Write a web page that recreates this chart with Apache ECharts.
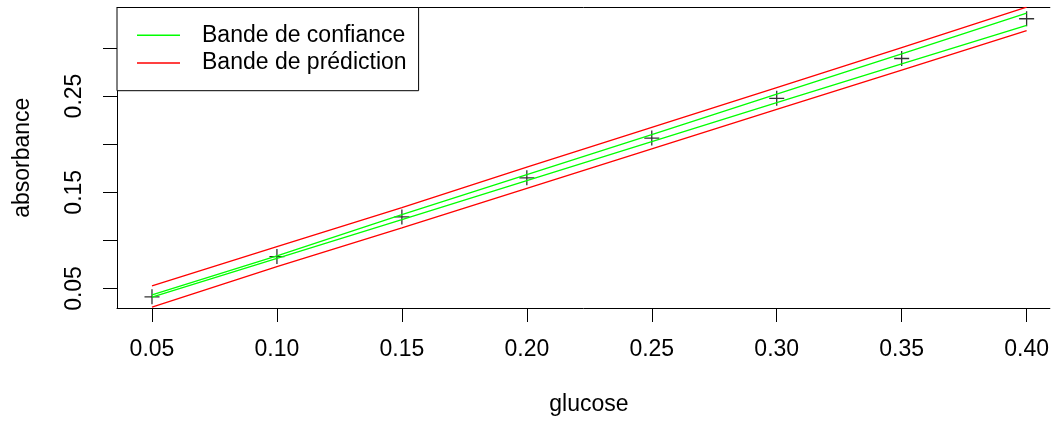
<!DOCTYPE html>
<html>
<head>
<meta charset="utf-8">
<script src="https://cdn.jsdelivr.net/npm/echarts@6/dist/echarts.min.js"></script>
<style>html,body{margin:0;padding:0;background:#fff;}#c{width:1052px;height:421px;}</style>
</head>
<body>
<div id="c"></div>
<script>
const glucose = [0.05, 0.10, 0.15, 0.20, 0.25, 0.30, 0.35, 0.40];
const absorbance = [0.0413, 0.0831, 0.1244, 0.1650, 0.2063, 0.2476, 0.2890, 0.3303];
const confLow = [0.0410, 0.0813, 0.1216, 0.1620, 0.2026, 0.2431, 0.2833, 0.3234];
const confHigh = [0.0434, 0.0839, 0.1268, 0.1682, 0.2100, 0.2519, 0.2938, 0.3362];
const predLow = [0.0307, 0.0727, 0.1130, 0.1540, 0.1951, 0.2362, 0.2770, 0.3179];
const predHigh = [0.0527, 0.0934, 0.1340, 0.1761, 0.2175, 0.2588, 0.3004, 0.3424];
const xTicks = [0.05, 0.10, 0.15, 0.20, 0.25, 0.30, 0.35, 0.40];
const yTicks = [0.05, 0.10, 0.15, 0.20, 0.25, 0.30];
const yLabels = [0.05, 0.15, 0.25];
const confName = 'Bande de confiance';
const predName = 'Bande de prédiction';

const FONT = "'Liberation Sans', Arial, Helvetica, sans-serif";
const pair = (xs, ys) => xs.map((x, i) => [x, ys[i]]);

const lineSeries = (name, ys, color) => ({
  type: 'line', name: name, data: pair(glucose, ys),
  showSymbol: false, symbol: 'none', silent: true,
  lineStyle: { color: color, width: 1.3 }, itemStyle: { color: color },
  animation: false
});

const chart = echarts.init(document.getElementById('c'), null, { renderer: 'canvas' });
chart.setOption({
  animation: false,
  backgroundColor: '#fff',
  textStyle: { fontFamily: FONT },
  grid: { left: 117, right: 1, top: 7.5, bottom: 111, show: false },
  legend: {
    left: 117, top: 7.5, orient: 'vertical',
    backgroundColor: '#fff', borderColor: '#000', borderWidth: 1,
    padding: [14, 12, 14, 20], itemGap: 0,
    itemWidth: 43, itemHeight: 1.5, icon: 'rect',
    textStyle: { fontFamily: FONT, fontSize: 23, color: '#000', lineHeight: 27.6, padding: [0, 0, 0, 17] },
    data: [confName, predName],
    selectedMode: false
  },
  xAxis: [{
    type: 'value', min: 0.036, max: 0.4093, position: 'bottom',
    name: 'glucose', nameLocation: 'middle', nameGap: 85,
    nameTextStyle: { fontFamily: FONT, fontSize: 23, color: '#000', padding: [0, 0, 0, 11] },
    axisLine: { show: true, onZero: false, lineStyle: { color: '#000', width: 1 } },
    splitLine: { show: false },
    axisTick: { show: true, length: 14, inside: false, customValues: xTicks, lineStyle: { color: '#000', width: 1 } },
    axisLabel: { customValues: xTicks, margin: 30, fontFamily: FONT, fontSize: 23, color: '#000', formatter: v => v.toFixed(2) }
  }, {
    type: 'value', min: 0.036, max: 0.4093, position: 'top',
    axisLine: { show: true, onZero: false, lineStyle: { color: '#000', width: 1 } },
    axisTick: { show: false }, axisLabel: { show: false }, splitLine: { show: false }
  }],
  yAxis: {
    type: 'value', min: 0.0297, max: 0.3420,
    name: 'absorbance', nameLocation: 'middle', nameGap: 83, nameRotate: 90,
    nameTextStyle: { fontFamily: FONT, fontSize: 23, color: '#000' },
    axisLine: { show: true, onZero: false, lineStyle: { color: '#000', width: 1 } },
    splitLine: { show: false },
    axisTick: { show: true, length: 14, inside: false, customValues: yTicks, lineStyle: { color: '#000', width: 1 } },
    axisLabel: { customValues: yLabels, rotate: 90, margin: 31, fontFamily: FONT, fontSize: 23, color: '#000', formatter: v => v.toFixed(2) }
  },
  series: [
    {
      type: 'scatter', name: 'points', data: pair(glucose, absorbance),
      symbol: 'path://M0,5 L10,5 M5,0 L5,10', symbolSize: 15,
      itemStyle: { color: 'transparent', borderColor: '#000', borderWidth: 1.3 },
      silent: true, z: 2
    },
    lineSeries(confName, confHigh, '#00ff00'),
    lineSeries(confName, confLow, '#00ff00'),
    lineSeries(predName, predHigh, '#ff0000'),
    lineSeries(predName, predLow, '#ff0000')
  ]
});
</script>
</body>
</html>
